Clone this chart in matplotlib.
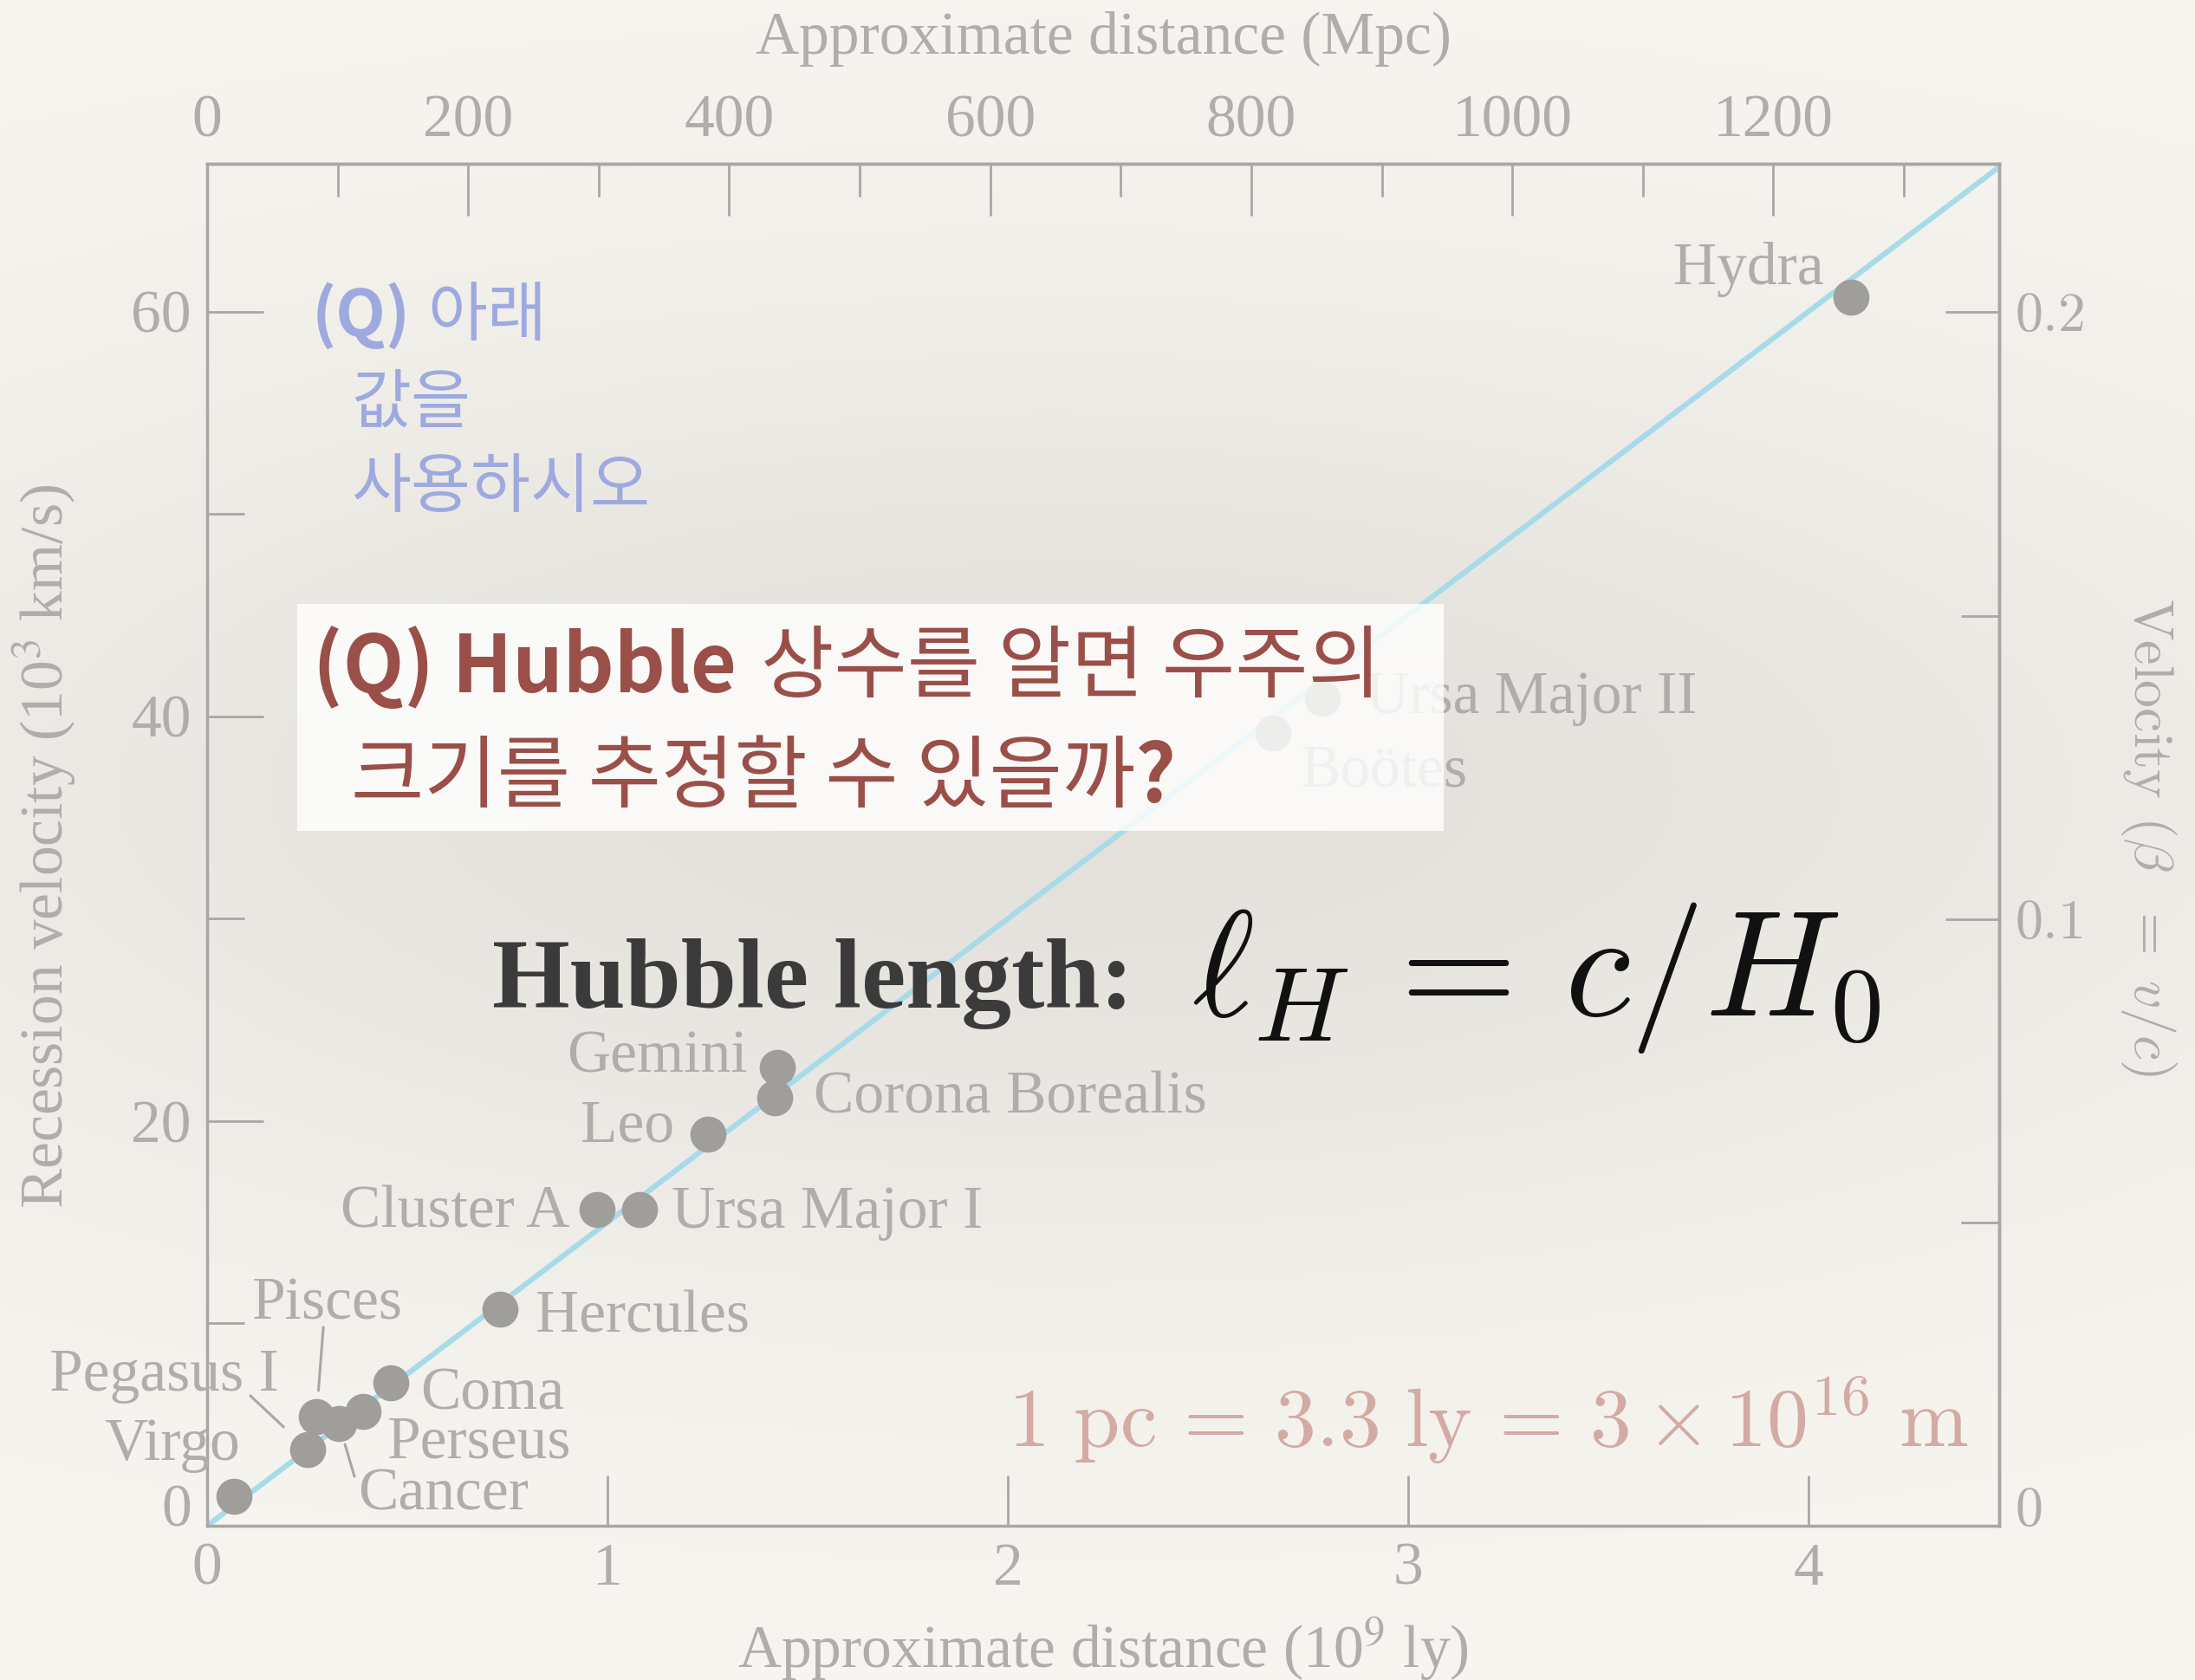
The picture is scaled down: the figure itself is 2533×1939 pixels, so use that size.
import numpy as np
import matplotlib.pyplot as plt
from matplotlib.patches import Rectangle
from matplotlib.text import Annotation
from matplotlib.ticker import MultipleLocator, FuncFormatter

plt.rcParams['mathtext.fontset'] = 'cm'
plt.rcParams['font.family'] = ['Liberation Serif', 'DejaVu Serif']

# galaxy clusters: distance (10^9 ly) and recession velocity (10^3 km/s)
names = ['Virgo', 'Pegasus I', 'Pisces', 'Cancer', 'Perseus', 'Coma', 'Hercules',
         'Cluster A', 'Ursa Major I', 'Leo', 'Corona Borealis', 'Gemini',
         'Boötes', 'Ursa Major II', 'Hydra']
dist_gly = [0.067, 0.251, 0.273, 0.329, 0.390, 0.459, 0.732,
            0.974, 1.080, 1.251, 1.418, 1.424,
            2.662, 2.786, 4.106]
vel = [1.46, 3.77, 5.40, 5.05, 5.65, 7.07, 10.71,
       15.63, 15.63, 19.36, 21.16, 22.66,
       39.19, 40.9, 60.7]

hubble_slope = 15.0   # 10^3 km/s per 10^9 ly
c_light = 299.79      # 10^3 km/s
ly_per_pc = 3.26
x_max, y_max = 4.476, 67.3

# label placement: (ha, dx px, dy px) from the point, baseline aligned
label_pos = {
    'Virgo': ('right', 7, -42), 'Pegasus I': ('right', -33, -68),
    'Pisces': ('left', -74, -112), 'Cancer': ('left', 22, 99),
    'Perseus': ('left', 28, 53), 'Coma': ('left', 34, 31),
    'Hercules': ('left', 41, 27), 'Cluster A': ('right', -32, 21),
    'Ursa Major I': ('left', 37, 21), 'Leo': ('right', -39, 9),
    'Corona Borealis': ('left', 45, 18), 'Gemini': ('right', -34, 6),
    'Boötes': ('left', 32, 62), 'Ursa Major II': ('left', 50, 17),
    'Hydra': ('right', -31, -15),
}
# leader lines: start offset (px) and gap left before the dot (px)
leaders = {'Pegasus I': (-66, -62, 38), 'Pisces': (8, -103, 30), 'Cancer': (18, 61, 25)}

PX = 0.72  # points per pixel at dpi 100
FS = 50
grey = '#a9a7a3'
text_grey = '#b0aeaa'

fig = plt.figure(figsize=(25.33, 19.39), dpi=100)

# paper background with a soft grey haze in the middle
bg = fig.add_axes([0, 0, 1, 1], zorder=-10)
yy, xx = np.mgrid[0:1:400j, 0:1:520j]
haze = np.exp(-((xx - 0.48) / 0.62) ** 2 - ((yy - 0.47) / 0.30) ** 2)
light = np.array([248, 246, 241]) / 255
dark = np.array([228, 225, 220]) / 255
img = light + (dark - light) * haze[..., None]
bg.imshow(img, aspect='auto', extent=[0, 1, 0, 1], origin='upper')
bg.axis('off')

ax = fig.add_axes([239 / 2533, 1 - 1761 / 1939, 2068 / 2533, 1572 / 1939])
ax.patch.set_alpha(0)
ax.set_xlim(0, x_max)
ax.set_ylim(0, y_max)

xs = np.array([0, x_max])
ax.plot(xs, hubble_slope * xs, color='#a7dbea', lw=4.5, zorder=2)
ax.scatter(dist_gly, vel, s=900, color='#9f9e9a', linewidths=0, zorder=3)

for name, x, y in zip(names, dist_gly, vel):
    ha, dx, dy = label_pos[name]
    ax.annotate(name, (x, y), xytext=(dx * PX, -dy * PX), textcoords='offset points',
                ha=ha, va='baseline', fontsize=FS, color=text_grey)
    if name in leaders:
        sx, sy, gap = leaders[name]
        ax.annotate('', (x, y), xytext=(sx * PX, -sy * PX), textcoords='offset points',
                    arrowprops=dict(arrowstyle='-', color=grey, lw=2.2,
                                    shrinkA=0, shrinkB=gap * PX))

for sp in ax.spines.values():
    sp.set_color(grey)
    sp.set_linewidth(2.5)

ax.xaxis.set_major_locator(MultipleLocator(1))
ax.yaxis.set_major_locator(MultipleLocator(20))
ax.yaxis.set_minor_locator(MultipleLocator(10))
ax.tick_params(which='both', direction='in', color=grey, width=2,
               labelcolor=text_grey, labelsize=FS, top=False, right=False)
ax.tick_params(axis='x', which='major', length=42, pad=14)
ax.tick_params(axis='y', which='major', length=47, pad=13)
ax.tick_params(axis='y', which='minor', length=31)
ax.set_xlabel('Approximate distance (10$^9$ ly)', fontsize=FS, color=text_grey,
              math_fontfamily='stix')
ax.xaxis.set_label_coords(0.5, -0.066)
ax.set_ylabel('Recession velocity (10$^3$ km/s)', fontsize=FS, color=text_grey,
              math_fontfamily='stix')
ax.yaxis.set_label_coords(-0.072, 0.499)

# distance in Mpc along the top
secx = ax.secondary_xaxis('top', functions=(lambda g: g * 1000 / ly_per_pc,
                                            lambda m: m * ly_per_pc / 1000))
secx.xaxis.set_major_locator(MultipleLocator(200))
secx.xaxis.set_minor_locator(MultipleLocator(100))
secx.tick_params(which='both', direction='in', color=grey, width=2,
                 labelcolor=text_grey, labelsize=FS)
secx.tick_params(which='major', length=43, pad=12)
secx.tick_params(which='minor', length=27)
secx.spines['top'].set_color(grey)
secx.spines['top'].set_linewidth(2.5)
secx.set_xlabel('Approximate distance (Mpc)', fontsize=FS, color=text_grey)
secx.xaxis.set_label_coords(0.5, 1.081, transform=ax.transAxes)

# velocity as a fraction of c on the right
secy = ax.secondary_yaxis('right', functions=(lambda v: v / c_light,
                                              lambda b: b * c_light))
secy.yaxis.set_major_locator(MultipleLocator(0.1))
secy.yaxis.set_minor_locator(MultipleLocator(0.05))
secy.yaxis.set_major_formatter(FuncFormatter(
    lambda b, _: '$0$' if abs(b) < 1e-9 else f'${b:.1f}$'))
secy.tick_params(which='both', direction='in', color=grey, width=2,
                 labelcolor=text_grey, labelsize=46)
secy.tick_params(which='major', length=45, pad=13)
secy.tick_params(which='minor', length=32)
secy.spines['right'].set_color(grey)
secy.spines['right'].set_linewidth(2.5)
secy.set_ylabel('Velocity ($\\beta\\ \\ =\\ v/c$)', fontsize=46, color=text_grey,
                family='cmr10', rotation=-90, va='bottom')
secy.yaxis.set_label_coords(1.0667, 0.506, transform=ax.transAxes)

# the zero labels sit on the baseline, above the bottom spine
fig.canvas.draw()
for tick in ax.yaxis.get_major_ticks():
    if abs(tick.get_loc()) < 1e-9:
        tick.label1.set_va('baseline')
for tick in secy.yaxis.get_major_ticks():
    if abs(tick.get_loc()) < 1e-9:
        tick.label2.set_va('baseline')

# question panel
fig.add_artist(Rectangle((343 / 2533, 1 - 959 / 1939), 1323 / 2533, 262 / 1939,
                         transform=fig.transFigure, facecolor='white',
                         edgecolor='none', alpha=0.82, zorder=5))

kr = ['Noto Sans CJK KR']
red = '#9a4f48'
blue = '#9eaadf'


def write(parts, x, y, size, color, gap=0.0):
    t = fig.text(x, y, parts[0][0], fontsize=size, color=color, family=kr,
                 fontweight=parts[0][1], va='baseline', zorder=6)
    for txt, weight in parts[1:]:
        t = Annotation(txt, xy=(1, 0), xycoords=t, xytext=(gap * size, 0),
                       textcoords='offset points', fontsize=size, color=color,
                       family=kr, fontweight=weight, va='bottom', ha='left',
                       zorder=6, annotation_clip=False)
        fig.add_artist(t)
    return t


write([('(Q) Hubble', 'bold'), ('상수를 알면 우주의', 'normal')],
      361 / 2533, 1 - 799 / 1939, 66, red, gap=0.3)
write([('크기를 추정할 수 있을까', 'normal'), ('?', 'bold')],
      405 / 2533, 1 - 925 / 1939, 66, red)

write([('(Q)', 'bold'), ('아래', 'normal')], 360 / 2533, 1 - 388 / 1939, 54, blue, gap=0.25)
fig.text(405 / 2533, 1 - 487 / 1939, '값을', fontsize=54, color=blue, family=kr,
         va='baseline', zorder=6)
fig.text(405 / 2533, 1 - 585 / 1939, '사용하시오', fontsize=54, color=blue, family=kr,
         va='baseline', zorder=6)

fig.text(568 / 2533, 1 - 1163 / 1939, 'Hubble length:', fontsize=83, fontweight='bold',
         color='#3b3b3b', va='baseline', zorder=6)
fig.text(1375 / 2533, 1 - 1172 / 1939, r'$\ell_H\,=\,c/H_0$', fontsize=125,
         color='#111111', va='baseline', zorder=6)
fig.text(1163 / 2533, 1 - 1670 / 1939,
         r'$1\ \mathrm{pc}\,=\,3.3\ \mathrm{ly}\,=\,3\times10^{16}\ \mathrm{m}$',
         fontsize=69, color='#d4aaa5', va='baseline', zorder=6)

fig.savefig('out.png', dpi=100)
